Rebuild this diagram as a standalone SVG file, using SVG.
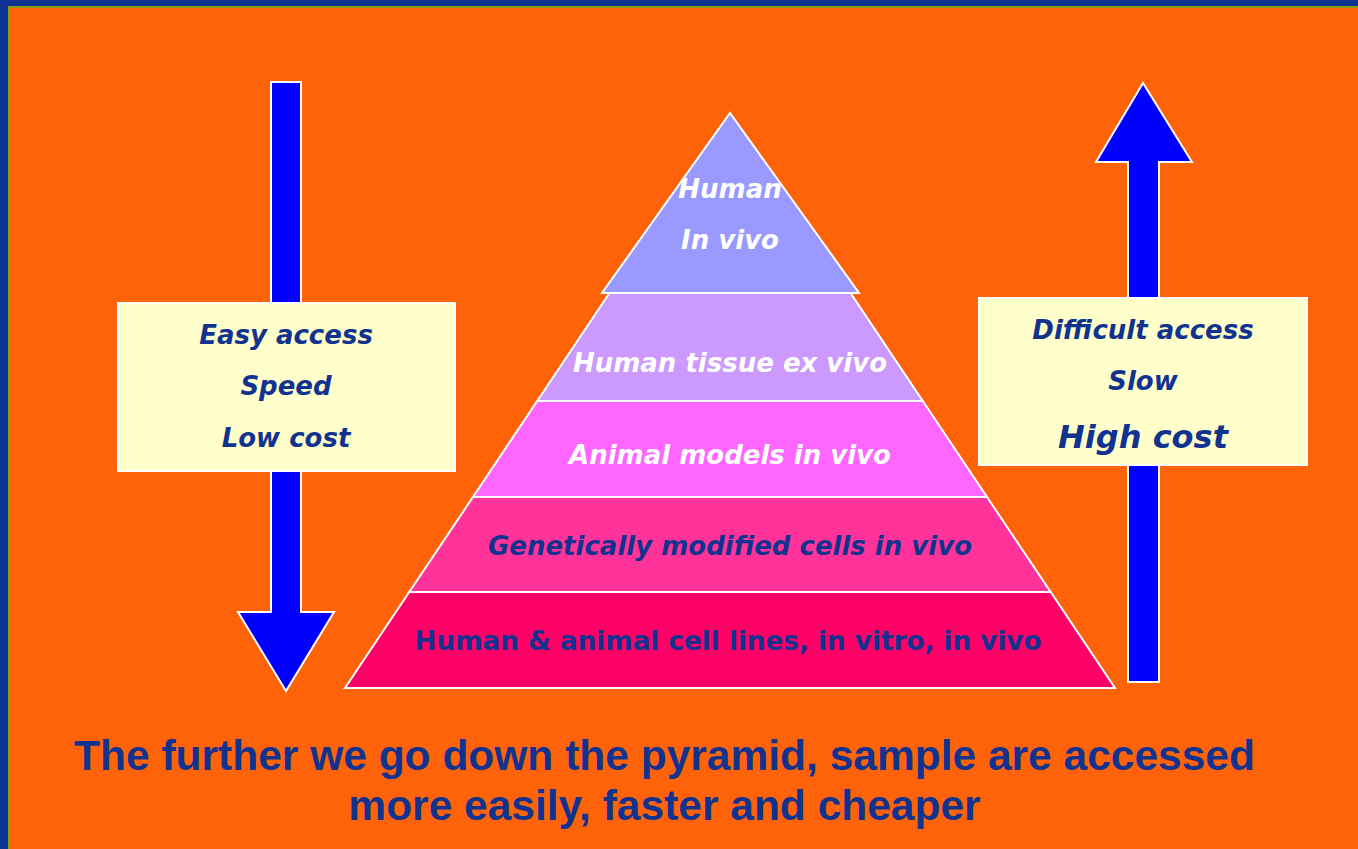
<svg xmlns="http://www.w3.org/2000/svg" width="1358" height="849" viewBox="0 0 1358 849">
<defs>
<style>
.bg{fill:#FF6309}
.arrow{fill:#0000FF;stroke:#FFFFFF;stroke-width:2;stroke-linejoin:miter}
.layer{stroke:#FFFFFF;stroke-width:2;stroke-linejoin:miter}
.box{fill:#FFFFCC;stroke:#FFFFFF;stroke-width:2}
.lbl{font-family:"DejaVu Sans",Verdana,sans-serif;font-weight:bold;font-style:italic;text-anchor:middle}
.w{fill:#FFFFFF}
.b{fill:#11338F}
.foot{font-family:"Liberation Sans",Arial,sans-serif;font-weight:bold;font-size:42.5px;fill:#11338F;text-anchor:middle}
</style>
</defs>
<rect class="bg" x="0" y="0" width="1358" height="849"/>
<g id="frame">
<rect x="0" y="0" width="1358" height="6" fill="#0F3393"/>
<rect x="0" y="0" width="8" height="849" fill="#0F3393"/>
<rect x="8" y="6" width="1350" height="2" fill="#8C9A10"/>
<rect x="8" y="6" width="2" height="843" fill="#8C9A10"/>
</g>
<g id="arrows">
<polygon id="arrow-down" class="arrow" points="271,82 301,82 301,612 334,612 286,691 238,612 271,612"/>
<polygon id="arrow-up" class="arrow" points="1143,83 1192,162 1159,162 1159,682 1128,682 1128,162 1096,162"/>
</g>
<g id="layer5">
<polygon class="layer" fill="#FF0066" points="409.3,592 1050.7,592 1115,688 345,688"/>
<text x="728" y="650" font-family="'DejaVu Sans Condensed','DejaVu Sans',sans-serif" font-weight="bold" font-stretch="condensed" font-size="27" fill="#11338F" text-anchor="middle" textLength="627" lengthAdjust="spacingAndGlyphs">Human &amp; animal cell lines, in vitro, in vivo</text>
</g>
<g id="layer4">
<polygon class="layer" fill="#FF3399" points="473,497 987,497 1050.7,592 409.3,592"/>
<text class="lbl b" x="730" y="555" font-size="26">Genetically modified cells in vivo</text>
</g>
<g id="layer3">
<polygon class="layer" fill="#FF66FF" points="537.2,401 922.8,401 987,497 473,497"/>
<text class="lbl w" x="730" y="464" font-size="26">Animal models in vivo</text>
</g>
<g id="layer2">
<polygon class="layer" fill="#CC99FF" points="609.5,293 850.5,293 922.8,401 537.2,401"/>
<text class="lbl w" x="730" y="372" font-size="26">Human tissue ex vivo</text>
</g>
<g id="layer1">
<polygon class="layer" fill="#9999FF" points="730,113 859,293 602,293"/>
<text class="lbl w" x="730" y="198" font-size="26">Human</text>
<text class="lbl w" x="730" y="249" font-size="26">In vivo</text>
</g>
<g id="box-left">
<rect class="box" x="118" y="303" width="337" height="168"/>
<text class="lbl b" x="286" y="344" font-size="26">Easy access</text>
<text class="lbl b" x="286" y="395" font-size="26">Speed</text>
<text class="lbl b" x="286" y="447" font-size="26">Low cost</text>
</g>
<g id="box-right">
<rect class="box" x="979" y="298" width="328" height="167"/>
<text class="lbl b" x="1143" y="339" font-size="26">Difficult access</text>
<text class="lbl b" x="1143" y="390" font-size="26">Slow</text>
<text class="lbl b" x="1143" y="448" font-size="32">High cost</text>
</g>
<g id="caption">
<text class="foot" x="664.5" y="770">The further we go down the pyramid, sample are accessed</text>
<text class="foot" x="664.5" y="820">more easily, faster and cheaper</text>
</g>
</svg>
